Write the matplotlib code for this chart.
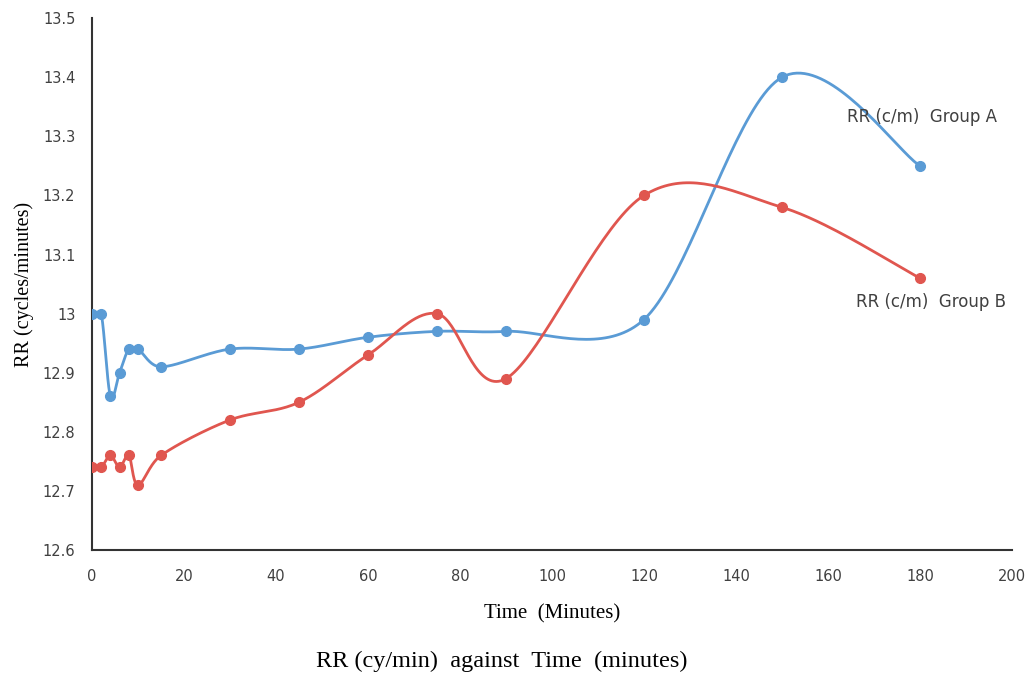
import numpy as np
import matplotlib
matplotlib.use('Agg')
import matplotlib.pyplot as plt
from matplotlib.ticker import FuncFormatter

# data
time_min = [0, 2, 4, 6, 8, 10, 15, 30, 45, 60, 75, 90, 120, 150, 180]
rr_group_a = [13.0, 13.0, 12.86, 12.9, 12.94, 12.94, 12.91, 12.94, 12.94, 12.96, 12.97, 12.97, 12.99, 13.4, 13.25]
rr_group_b = [12.74, 12.74, 12.76, 12.74, 12.76, 12.71, 12.76, 12.82, 12.85, 12.93, 13.0, 12.89, 13.2, 13.18, 13.06]

x_ticks = [0, 20, 40, 60, 80, 100, 120, 140, 160, 180, 200]
y_ticks = [12.6, 12.7, 12.8, 12.9, 13.0, 13.1, 13.2, 13.3, 13.4, 13.5]

BLUE = '#5A9BD5'
RED = '#E0564F'

# rough pixels per data unit, so the smoothing works in screen space
SX, SY = 4.6, 591.0


def smooth(xs, ys, n=40):
    # Excel-like smoothed line: cubic bezier with catmull-rom control points
    p = np.column_stack([np.asarray(xs) * SX, np.asarray(ys) * SY]).astype(float)
    out = []
    for i in range(len(p) - 1):
        p0 = p[i - 1] if i > 0 else p[i]
        p3 = p[i + 2] if i + 2 < len(p) else p[i + 1]
        seg_len = np.linalg.norm(p[i + 1] - p[i])
        d1 = (p[i + 1] - p0) / 6.0
        d2 = (p3 - p[i]) / 6.0
        # keep the handles short on tiny segments
        for d in (d1, d2):
            ln = np.linalg.norm(d)
            if ln > 0.4 * seg_len:
                d *= 0.4 * seg_len / ln
        c1 = p[i] + d1
        c2 = p[i + 1] - d2
        t = np.linspace(0, 1, n)[:, None]
        seg = ((1 - t) ** 3) * p[i] + 3 * ((1 - t) ** 2) * t * c1 + 3 * (1 - t) * t ** 2 * c2 + t ** 3 * p[i + 1]
        out.append(seg)
    pts = np.vstack(out)
    return pts[:, 0] / SX, pts[:, 1] / SY


def main():
    fig = plt.figure(figsize=(10.29, 6.74), dpi=100)
    ax = fig.add_axes([0.0894, 0.184, 0.894, 0.789])

    for ys, col in [(rr_group_a, BLUE), (rr_group_b, RED)]:
        sx, sy = smooth(time_min, ys)
        ax.plot(sx, sy, color=col, lw=2.0, solid_capstyle='round', zorder=2)
        ax.plot(time_min, ys, 'o', color=col, ms=7, zorder=3)

    ax.set_xlim(0, 200)
    ax.set_ylim(12.6, 13.5)
    ax.set_xticks(x_ticks)
    ax.set_yticks(y_ticks)
    ax.yaxis.set_major_formatter(FuncFormatter(lambda v, p: '%g' % round(v, 1)))
    ax.tick_params(length=0, labelsize=10.5, colors='#404040', pad=12)
    ax.tick_params(axis='x', pad=14)

    for s in ['top', 'right']:
        ax.spines[s].set_visible(False)
    for s in ['left', 'bottom']:
        ax.spines[s].set_color('#333333')
        ax.spines[s].set_linewidth(1.5)

    ax.set_xlabel('Time  (Minutes)', family='Liberation Serif', fontsize=15, labelpad=14)
    ax.set_ylabel('RR (cycles/minutes)', family='Liberation Serif', fontsize=14.5, labelpad=6)

    ax.text(180.5, 13.333, 'RR (c/m)  Group A', ha='center', va='center', fontsize=12, color='#404040')
    ax.text(182.5, 13.02, 'RR (c/m)  Group B', ha='center', va='center', fontsize=12, color='#404040')

    fig.text(0.488, 0.003, 'RR (cy/min)  against  Time  (minutes)', ha='center', va='bottom',
             family='Liberation Serif', fontsize=17.5)

    fig.savefig('out.png', dpi=100)


if __name__ == '__main__':
    main()
